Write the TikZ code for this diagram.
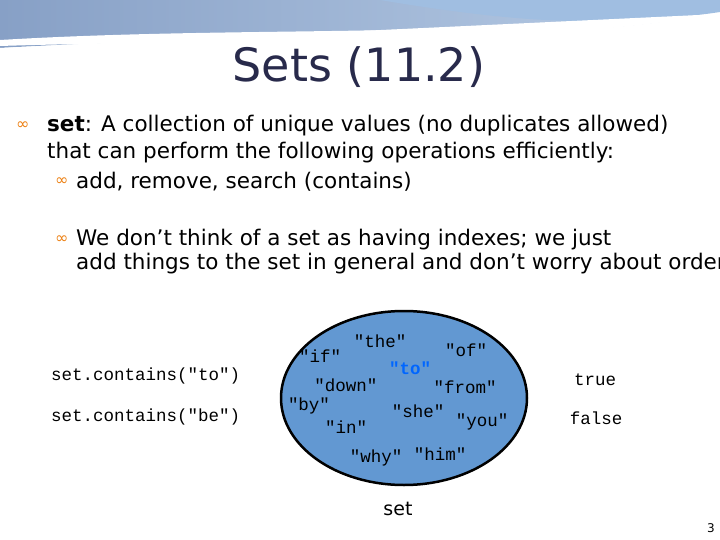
\documentclass[tikz,border=0pt]{standalone}
\usepackage{fontspec}
\usetikzlibrary{shapes.geometric}
\setmainfont{DejaVu Sans}
\newfontfamily\codefont{Liberation Mono}
\definecolor{setblue}{RGB}{98,152,210}
\definecolor{swA}{RGB}{135,160,198}
\definecolor{swB}{RGB}{185,205,230}
\definecolor{swC}{RGB}{160,190,225}
\definecolor{titlec}{RGB}{40,42,75}
\newcommand{\ap}{\char39 }
\begin{document}
\begin{tikzpicture}[x=1pt,y=-1pt,
  txt/.style={anchor=west,inner sep=0pt,font=\fontsize{21.5}{24}\selectfont},
  code/.style={inner sep=1pt,font=\codefont\fontsize{17.5}{19}\selectfont},
  bul/.style={anchor=west,inner sep=0pt,text=orange!70!brown,font=\fontsize{16}{18}\selectfont}]
\useasboundingbox (0,0) rectangle (720,540);
% top swoosh
\shade[left color=swA,right color=swB]
  (0,0) -- (720,0) -- (720,10) .. controls (600,45) and (300,30) .. (0,48) -- cycle;
\fill[white] (0,40) .. controls (250,25) and (500,40) .. (720,8) -- (720,14)
  .. controls (500,50) and (250,38) .. (0,46) -- cycle;
\fill[swC] (380,0) .. controls (500,20) and (600,30) .. (720,12) -- (720,0) -- cycle;
\fill[white] (0,48) -- (720,14) -- (720,20) -- (0,52) -- cycle;
\node[inner sep=0pt,text=titlec,font=\fontsize{46}{50}\selectfont] (title) at (359,67) {Sets (11.2)};
\node[bul] (b1) at (16,126) {∞};
\node[txt] (l1) at (47,126) {\textbf{set}: A collection of unique values (no duplicates allowed)};
\node[txt] (l2) at (47,153) {that can perform the following operations efficiently:};
\node[bul] (b2) at (55,182) {∞};
\node[txt] (l3) at (76,182) {add, remove, search (contains)};
\node[bul] (b3) at (55,240) {∞};
\node[txt] (l4) at (76,240) {We don\ap t think of a set as having indexes; we just};
\node[txt] (l5) at (76,264) {add things to the set in general and don\ap t worry about order};
\node[draw=black,line width=2.5pt,fill=setblue,ellipse,minimum width=246,minimum height=174,inner sep=0pt] (set) at (404,398) {};
\node[code] (w1) at (380,341) {"the"};
\node[code] (w2) at (320,356) {"if"};
\node[code] (w3) at (466,350) {"of"};
\node[code,text=blue!60!cyan,font=\codefont\bfseries\fontsize{17.5}{19}\selectfont] (w4) at (410,368) {"to"};
\node[code] (w5) at (346,385) {"down"};
\node[code] (w6) at (465,387) {"from"};
\node[code] (w7) at (309,406) {"by"};
\node[code] (w8) at (418,411) {"she"};
\node[code] (w9) at (482,422) {"you"};
\node[code] (w10) at (346,427) {"in"};
\node[code] (w11) at (376,458) {"why"};
\node[code] (w12) at (440,454) {"him"};
\node[inner sep=0pt,font=\fontsize{19}{22}\selectfont] (lab) at (398,509) {set};
\node[code,anchor=west] (q1) at (50,376) {set.contains("to")};
\node[code,anchor=west] (q2) at (50,417) {set.contains("be")};
\node[code] (r1) at (595,380) {true};
\node[code] (r2) at (596,418) {false};
\node[inner sep=0pt,font=\fontsize{12}{13}\selectfont] (pg) at (711,528) {3};
\end{tikzpicture}
\end{document}
